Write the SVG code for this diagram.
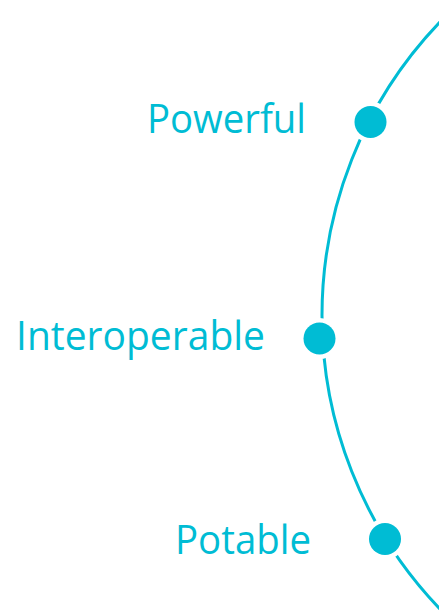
<svg xmlns="http://www.w3.org/2000/svg" width="439" height="616" viewBox="0 0 439 616">
<style>
.lbl{font-family:"Open Sans","Noto Sans","Liberation Sans",sans-serif;font-size:41px;fill:#00BCD4;}
.gap{fill:#ffffff;}
.dot{fill:#00BCD4;}
</style>
<rect width="439" height="616" fill="#ffffff"/>
<g id="connectors">
<circle cx="746" cy="315.5" r="424" fill="none" stroke="#00BCD4" stroke-width="3"/>
</g>
<g id="powerful">
<circle class="gap" cx="370.5" cy="122" r="20.5"/>
<circle class="dot" cx="370.5" cy="122" r="16"/>
<text class="lbl" x="147" y="133" textLength="159" lengthAdjust="spacingAndGlyphs">Powerful</text>
</g>
<g id="interoperable">
<circle class="gap" cx="319.5" cy="338.5" r="20.5"/>
<circle class="dot" cx="319.5" cy="338.5" r="16"/>
<text class="lbl" x="16" y="350" textLength="249" lengthAdjust="spacingAndGlyphs">Interoperable</text>
</g>
<g id="potable">
<circle class="gap" cx="385" cy="539" r="20.5"/>
<circle class="dot" cx="385" cy="539" r="16"/>
<text class="lbl" x="175" y="554" textLength="136" lengthAdjust="spacingAndGlyphs">Potable</text>
</g>
</svg>
